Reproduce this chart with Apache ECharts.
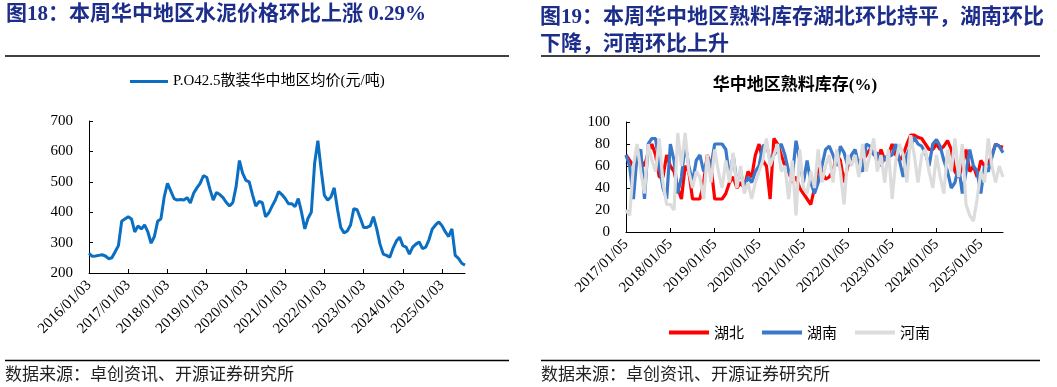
<!DOCTYPE html>
<html><head><meta charset="utf-8">
<script src="https://cdn.jsdelivr.net/npm/echarts@6/dist/echarts.min.js"></script>
<style>html,body{margin:0;padding:0;background:#fff}#c{width:1057px;height:387px}</style>
</head><body><div id="c"></div>
<script>
// ---- Left chart: P.O42.5 bulk cement price, Central China (monthly points from 2016/01) ----
const priceTickLabels = ['2016/01/03','2017/01/03','2018/01/03','2019/01/03','2020/01/03','2021/01/03','2022/01/03','2023/01/03','2024/01/03','2025/01/03'];
const priceSeriesName = 'P.O42.5散装华中地区均价(元/吨)';
const priceValues = [
265,255,256,258,260,256,247,250,270,290,370,378,
385,378,335,355,345,358,335,298,320,370,378,450,
495,470,445,440,442,440,448,430,462,480,495,520,
515,475,440,465,458,448,432,420,432,485,570,528,
505,500,458,420,435,432,385,398,420,440,468,458,
445,428,428,418,445,400,345,380,400,560,635,540,
455,440,450,480,410,350,332,338,358,412,408,380,
350,350,355,385,345,295,262,258,252,282,305,318,
290,285,262,285,295,302,280,285,310,345,358,368,
355,335,320,345,258,248,232,226];

// ---- Right chart: clinker inventory ratio (%) (monthly points from 2017/01) ----
const stockTickLabels = ['2017/01/05','2018/01/05','2019/01/05','2020/01/05','2021/01/05','2022/01/05','2023/01/05','2024/01/05','2025/01/05'];
const stockNames = ['湖北','湖南','河南'];
const hubei = [
70,65,60,75,65,60,72,80,70,50,50,70,
60,55,40,30,60,55,30,30,30,45,70,60,
30,30,30,35,45,50,40,45,40,55,50,70,
80,65,60,30,85,80,70,60,55,45,50,40,
35,30,25,40,58,55,48,50,55,70,65,45,
60,65,65,65,65,70,75,72,65,75,65,70,
80,70,65,70,80,88,88,86,85,80,75,75,
80,75,78,83,75,55,50,60,75,55,60,50,
65,60,62,70,80,78,77];
const hunan = [
70,60,30,70,75,30,80,85,85,60,40,30,
80,65,35,50,80,60,45,65,70,55,65,60,
80,80,80,75,50,70,45,55,40,50,45,55,
60,78,80,65,70,75,80,70,55,50,83,65,
45,65,45,35,45,60,75,78,70,60,78,72,
60,70,75,60,55,80,78,70,72,60,68,68,
70,80,65,50,70,78,86,80,78,72,60,80,
84,78,65,55,40,45,60,35,55,75,60,55,
35,60,55,68,80,78,72];
const henan = [
20,15,60,80,55,35,80,65,55,85,45,25,
25,20,90,60,90,55,40,55,50,30,70,45,
75,55,40,65,45,72,40,60,35,45,30,45,
55,65,85,60,70,80,55,60,30,65,15,75,
40,35,55,40,75,45,60,70,45,75,55,25,
70,60,70,50,80,55,70,85,55,70,45,75,
30,65,80,70,45,88,70,45,70,75,55,40,
70,50,35,75,55,85,50,80,25,15,10,30,
55,45,85,60,45,60,50];

const serif = "'Liberation Serif','Noto Sans CJK SC',serif";
const cjk = "'Noto Sans CJK SC','Liberation Serif',sans-serif";
const titleColor = '#1c2d8a';

const chart = echarts.init(document.getElementById('c'), null, {renderer:'canvas'});

function axisCommon(){
  return {
    axisLine:{show:true,lineStyle:{color:'#000',width:1}},
    axisTick:{show:true,inside:true,length:4,lineStyle:{color:'#000'}},
    splitLine:{show:false}
  };
}

const option = {
  animation:false,
  backgroundColor:'#fff',
  graphic:[
    {type:'text',left:6,top:4,style:{text:'图18：本周华中地区水泥价格环比上涨 0.29%',font:'bold 21px '+serif,fill:titleColor}},
    {type:'text',left:540,top:4,style:{text:'图19：本周华中地区熟料库存湖北环比持平，湖南环比\n下降，河南环比上升',font:'bold 21px '+serif,fill:titleColor,lineHeight:27}},
    {type:'line',shape:{x1:5,y1:56,x2:509,y2:56},style:{stroke:'#000',lineWidth:1.3}},
    {type:'line',shape:{x1:541,y1:56,x2:1040,y2:56},style:{stroke:'#000',lineWidth:1.3}},
    {type:'line',shape:{x1:5,y1:360.5,x2:509,y2:360.5},style:{stroke:'#000',lineWidth:1.3}},
    {type:'line',shape:{x1:541,y1:360.5,x2:1040,y2:360.5},style:{stroke:'#000',lineWidth:1.3}},
    {type:'text',left:5,top:365,style:{text:'数据来源：卓创资讯、开源证券研究所',font:'17px '+cjk,fill:'#222'}},
    {type:'text',left:541,top:365,style:{text:'数据来源：卓创资讯、开源证券研究所',font:'17px '+cjk,fill:'#222'}},
    {type:'text',x:795,y:86,style:{text:'华中地区熟料库存(%)',font:'bold 17px '+serif,fill:'#000',align:'center',verticalAlign:'middle'}}
  ],
  legend:[
    {left:130,top:74,padding:0,icon:'rect',itemWidth:38,itemHeight:3,itemGap:5,data:[priceSeriesName],
     textStyle:{fontFamily:serif,fontSize:15,color:'#000'}},
    {left:669,top:325,padding:0,icon:'rect',itemWidth:40,itemHeight:4,itemGap:18,data:stockNames,
     textStyle:{fontFamily:cjk,fontSize:15,color:'#000'}}
  ],
  grid:[
    {left:89,top:121,width:376,height:152},
    {left:626,top:122,width:377,height:110}
  ],
  xAxis:[
    Object.assign(axisCommon(),{type:'value',gridIndex:0,min:0,max:115,interval:12,
      axisLabel:{rotate:45,margin:10,fontFamily:serif,fontSize:15,color:'#000',showMaxLabel:false,
        formatter:v=> v%12===0 ? (priceTickLabels[v/12]||'') : ''}}),
    Object.assign(axisCommon(),{type:'value',gridIndex:1,min:0,max:102,interval:12,
      axisLabel:{rotate:45,margin:10,fontFamily:serif,fontSize:15,color:'#000',showMaxLabel:false,
        formatter:v=> v%12===0 ? (stockTickLabels[v/12]||'') : ''}})
  ],
  yAxis:[
    Object.assign(axisCommon(),{type:'value',gridIndex:0,min:200,max:700,interval:100,
      axisLabel:{margin:16,fontFamily:serif,fontSize:15,color:'#000'}}),
    Object.assign(axisCommon(),{type:'value',gridIndex:1,min:0,max:100,interval:20,
      axisLabel:{margin:16,fontFamily:serif,fontSize:15,color:'#000'}})
  ],
  series:[
    {name:priceSeriesName,type:'line',xAxisIndex:0,yAxisIndex:0,symbol:'none',
     lineStyle:{color:'#0a6fc2',width:3},itemStyle:{color:'#0a6fc2'},
     data:priceValues.map((v,i)=>[i,v])},
    {name:stockNames[0],type:'line',xAxisIndex:1,yAxisIndex:1,symbol:'none',
     lineStyle:{color:'#ff0000',width:3.2},itemStyle:{color:'#ff0000'},
     data:hubei.map((v,i)=>[i,v])},
    {name:stockNames[1],type:'line',xAxisIndex:1,yAxisIndex:1,symbol:'none',
     lineStyle:{color:'#3a78c9',width:3.2},itemStyle:{color:'#3a78c9'},
     data:hunan.map((v,i)=>[i,v])},
    {name:stockNames[2],type:'line',xAxisIndex:1,yAxisIndex:1,symbol:'none',
     lineStyle:{color:'#dcdcdc',width:3.2},itemStyle:{color:'#dcdcdc'},
     data:henan.map((v,i)=>[i,v])}
  ]
};
chart.setOption(option);
</script></body></html>
